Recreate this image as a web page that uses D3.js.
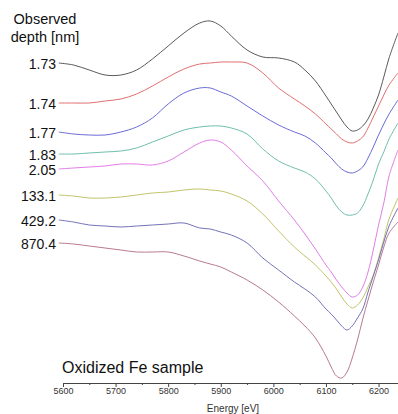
<!DOCTYPE html>
<html>
<head>
<meta charset="utf-8">
<script src="https://cdn.jsdelivr.net/npm/d3@7"></script>
<style>
  html, body { margin: 0; padding: 0; background: #fff; }
  svg { display: block; font-family: "Liberation Sans", Arial, sans-serif; }
</style>
</head>
<body>
<svg id="chart" width="398" height="414"></svg>
<script>
// Energy grid (eV)
const energy = [5592, 5620, 5650, 5680, 5710, 5740, 5770, 5800, 5830, 5860, 5880, 5900, 5920, 5950, 5980, 6010, 6040, 6060, 6080, 6100, 6110, 6120, 6130, 6140, 6150, 6160, 6170, 6180, 6190, 6200, 6210, 6220, 6237];

// Observed depths [nm]
const depths = ["1.73", "1.74", "1.77", "1.83", "2.05", "133.1", "429.2", "870.4"];

// Offset intensities (a.u.), one array per depth
const s173 = [33.7, 33.5, 33.0, 32.5, 32.5, 33.0, 34.1, 35.4, 36.7, 37.7, 37.9, 37.4, 36.4, 35.0, 34.3, 34.2, 33.8, 33.0, 31.9, 30.4, 29.6, 28.8, 28.0, 27.3, 26.9, 27.0, 27.4, 28.1, 29.2, 30.5, 32.3, 34.2, 36.7];
const s174 = [29.7, 29.7, 29.7, 29.9, 30.1, 30.6, 31.4, 32.3, 33.1, 33.6, 33.7, 33.8, 33.8, 33.7, 32.7, 31.2, 30.1, 29.4, 28.6, 27.6, 27.1, 26.6, 26.1, 25.8, 25.7, 25.9, 26.3, 27.2, 28.3, 29.4, 30.5, 31.5, 32.7];
const s177 = [26.8, 26.6, 26.5, 26.5, 26.8, 27.3, 28.2, 29.6, 30.7, 31.2, 31.2, 30.8, 30.4, 29.4, 28.4, 27.5, 26.8, 26.4, 25.7, 24.7, 24.2, 23.6, 23.1, 22.8, 22.7, 22.9, 23.3, 24.2, 25.3, 26.5, 27.6, 28.6, 30.0];
const s183 = [24.6, 24.6, 24.7, 24.8, 24.9, 25.2, 25.8, 26.4, 27.0, 27.3, 27.4, 27.4, 27.2, 26.6, 25.1, 23.9, 23.2, 22.8, 22.1, 20.9, 20.2, 19.4, 18.8, 18.5, 18.5, 18.7, 19.4, 20.6, 22.0, 23.6, 24.8, 26.1, 27.7];
const s205 = [23.1, 23.2, 23.3, 23.4, 23.6, 23.6, 23.5, 23.9, 24.8, 25.7, 26.0, 25.8, 25.0, 23.4, 21.9, 19.9, 18.0, 16.6, 15.1, 13.5, 12.8, 12.0, 11.3, 10.7, 10.3, 10.5, 11.3, 12.8, 15.0, 17.5, 19.7, 22.4, 25.0];
const s1331 = [20.5, 20.4, 20.2, 20.2, 20.3, 20.5, 20.7, 20.8, 21.0, 21.1, 21.0, 20.9, 20.6, 19.9, 18.6, 16.9, 15.3, 14.4, 13.5, 12.4, 11.8, 11.1, 10.3, 9.6, 9.2, 9.5, 10.2, 11.3, 12.5, 14.2, 16.1, 18.1, 20.2];
const s4292 = [18.0, 17.8, 17.5, 17.4, 17.3, 17.4, 17.5, 17.6, 17.7, 17.2, 17.1, 16.8, 16.5, 15.7, 14.2, 13.0, 11.8, 11.1, 10.3, 9.1, 8.6, 8.0, 7.4, 7.0, 7.4, 8.2, 9.1, 10.8, 12.4, 14.0, 15.8, 17.4, 19.2];
const s8704 = [15.7, 15.6, 15.4, 15.2, 15.0, 14.8, 14.8, 14.8, 14.4, 13.9, 13.6, 13.3, 12.8, 12.0, 11.0, 9.8, 8.4, 7.4, 6.2, 4.4, 3.3, 2.4, 2.2, 2.8, 4.2, 6.0, 8.1, 10.0, 11.8, 13.5, 15.3, 16.7, 17.8];

const seriesValues = [s173, s174, s177, s183, s205, s1331, s4292, s8704];
const colors = ["#5a5a5a", "#e07070", "#6b6bd6", "#6fbfae", "#e27ee6", "#c2c46a", "#7373b8", "#b87a93"];

const majorTicks = [5600, 5700, 5800, 5900, 6000, 6100, 6200];
const minorTicks = [5650, 5750, 5850, 5950, 6050, 6150];

const svg = d3.select("#chart");
const W = 398, H = 414;

const x = d3.scaleLinear().domain([5600, 6237]).range([63, 398]);
const y = d3.scaleLinear().domain([0, 40]).range([400, 0]);

const line = d3.line()
  .x((d, i) => x(energy[i]))
  .y(d => y(d))
  .curve(d3.curveCatmullRom.alpha(0.5));

svg.append("defs").append("clipPath").attr("id", "clip")
  .append("rect").attr("x", 0).attr("y", 0).attr("width", W).attr("height", H);

const g = svg.append("g").attr("clip-path", "url(#clip)");
seriesValues.forEach((vals, k) => {
  g.append("path")
    .datum(vals)
    .attr("d", line)
    .attr("fill", "none")
    .attr("stroke", colors[k])
    .attr("stroke-width", 1);
});

// depth labels
seriesValues.forEach((vals, k) => {
  svg.append("text")
    .attr("x", 56)
    .attr("y", y(vals[0]) + 1)
    .attr("text-anchor", "end")
    .attr("dominant-baseline", "central")
    .attr("font-size", 14)
    .attr("fill", "#111")
    .text(depths[k]);
});

// header
svg.append("text").attr("x", 45).attr("y", 24).attr("text-anchor", "middle")
  .attr("font-size", 14.5).attr("fill", "#111").text("Observed");
svg.append("text").attr("x", 45).attr("y", 42).attr("text-anchor", "middle")
  .attr("font-size", 14.5).attr("fill", "#111").text("depth [nm]");

// sample label
svg.append("text").attr("x", 62).attr("y", 373)
  .attr("font-size", 16).attr("fill", "#111").text("Oxidized Fe sample");

// x axis
const axisY = 383;
const axis = d3.axisBottom(x)
  .tickValues(majorTicks)
  .tickFormat(d3.format("d"))
  .tickSize(4)
  .tickSizeOuter(0);
const ax = svg.append("g").attr("transform", `translate(0,${axisY})`).call(axis);
ax.select(".domain").attr("stroke", "#444");
ax.selectAll(".tick line").attr("stroke", "#444");
ax.selectAll(".tick text").attr("font-size", 9).attr("fill", "#333")
  .attr("font-family", "Liberation Sans, Arial, sans-serif").attr("dy", "0.9em").attr("y", 3);

const minorAxis = d3.axisBottom(x).tickValues(minorTicks).tickSize(2).tickFormat("");
const mx = svg.append("g").attr("transform", `translate(0,${axisY})`).call(minorAxis);
mx.select(".domain").remove();
mx.selectAll(".tick line").attr("stroke", "#444");

svg.append("text").attr("x", 233).attr("y", 412).attr("text-anchor", "middle")
  .attr("font-size", 10).attr("fill", "#333").text("Energy [eV]");
</script>
</body>
</html>
